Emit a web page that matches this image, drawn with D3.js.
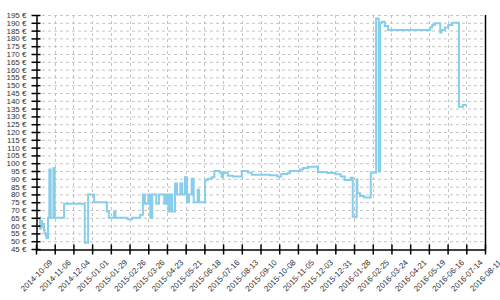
<!DOCTYPE html>
<html><head><meta charset="utf-8">
<script src="https://cdn.jsdelivr.net/npm/d3@7"></script>
<style>
body{margin:0;background:#fff;}
svg{display:block;font-family:"Liberation Sans",Arial,sans-serif;}
</style></head>
<body><svg id="c" width="500" height="300"></svg>
<script>
const dates = ["2014-10-14","2014-10-15","2014-10-16","2014-10-18","2014-10-19","2014-10-21","2014-10-22","2014-10-24","2014-10-25","2014-10-27","2014-10-29","2014-10-31","2014-11-04","2014-11-06","2014-11-20","2014-12-21","2014-12-26","2015-01-04","2015-01-23","2015-01-26","2015-02-03","2015-02-05","2015-02-23","2015-03-02","2015-03-14","2015-03-18","2015-03-21","2015-03-26","2015-03-29","2015-04-01","2015-04-07","2015-04-11","2015-04-19","2015-04-22","2015-04-25","2015-04-28","2015-05-01","2015-05-05","2015-05-08","2015-05-13","2015-05-16","2015-05-20","2015-05-23","2015-05-26","2015-05-30","2015-06-02","2015-06-08","2015-06-10","2015-06-19","2015-06-23","2015-06-29","2015-07-03","2015-07-11","2015-07-14","2015-07-16","2015-07-19","2015-07-23","2015-07-31","2015-08-13","2015-08-22","2015-08-28","2015-09-24","2015-10-05","2015-10-11","2015-10-20","2015-10-24","2015-11-08","2015-11-13","2015-11-20","2015-12-05","2015-12-19","2015-12-31","2016-01-08","2016-01-14","2016-01-23","2016-01-26","2016-02-01","2016-02-02","2016-02-06","2016-02-12","2016-02-22","2016-03-01","2016-03-05","2016-03-07","2016-03-10","2016-03-14","2016-03-19","2016-05-21","2016-05-24","2016-05-28","2016-06-05","2016-06-07","2016-06-12","2016-06-17","2016-06-23","2016-07-03","2016-07-09","2016-07-15"];
const prices = [65,58,63,59,61,57,55,53,52,65,96,65,97,65,74,49,80,75,69,65,69,65,64,65,67,80,74,80,65,80,74,80,74,80,69,80,69,87,80,87,80,91,75,80,90,75,83,75,89,90,91,95,94,91,93.5,94,92,91.4,95,94,92.6,92.2,91.4,93,93.5,95,96,97,97.8,94.4,93.7,92.9,91.4,89.2,90.7,65.7,89.6,80.7,79,78,94,192.8,94.6,190,190.7,188,185.4,187,188.6,189.7,183.8,185.4,187,188.6,190,136.2,137.3,137.3];
const xTicks = ["2014-10-09","2014-11-06","2014-12-04","2015-01-01","2015-01-29","2015-02-26","2015-03-26","2015-04-23","2015-05-21","2015-06-18","2015-07-16","2015-08-13","2015-09-10","2015-10-08","2015-11-05","2015-12-03","2015-12-31","2016-01-28","2016-02-25","2016-03-24","2016-04-21","2016-05-19","2016-06-16","2016-07-14","2016-08-11"];
const yTicks = [45,50,55,60,65,70,75,80,85,90,95,100,105,110,115,120,125,130,135,140,145,150,155,160,165,170,175,180,185,190,195];

const parse = d3.utcParse("%Y-%m-%d");
const svg = d3.select("#c");
const L = 36, R = 485, T = 15, B = 249;
const x = d3.scaleUtc().domain([parse(xTicks[0]), parse(xTicks[xTicks.length-1])]).range([L, R]);
const y = d3.scaleLinear().domain([45, 195]).range([B, T]);

// grid
const g = svg.append("g");
g.selectAll("line.h").data(yTicks.slice(1)).join("line")
  .attr("x1", L).attr("x2", R).attr("y1", d => y(d) + 0.5).attr("y2", d => y(d) + 0.5)
  .attr("stroke", "#c4c4c4").attr("stroke-dasharray", "3,3");
g.selectAll("line.v").data(xTicks.slice(1, -1)).join("line")
  .attr("x1", d => Math.round(x(parse(d))) + 0.5).attr("x2", d => Math.round(x(parse(d))) + 0.5)
  .attr("y1", T).attr("y2", B)
  .attr("stroke", "#c4c4c4").attr("stroke-dasharray", "3,3");

// line
const pts = dates.map((d, i) => [parse(d), prices[i]]);
svg.append("path").datum(pts)
  .attr("fill", "none").attr("stroke", "#87ceeb").attr("stroke-width", 2)
  .attr("d", d3.line().x(d => x(d[0])).y(d => y(d[1])).curve(d3.curveStepAfter));

// y axis
const ya = svg.append("g").attr("transform", `translate(${L + 0.5},0)`)
  .call(d3.axisLeft(y).tickValues(yTicks).tickFormat(d => d + " €").tickSize(5).tickPadding(5).tickSizeOuter(0));
ya.selectAll(".tick line").attr("x1", 4);
// x axis
const xa = svg.append("g").attr("transform", `translate(0,${B + 0.5})`)
  .call(d3.axisBottom(x).tickValues(xTicks.map(parse)).tickFormat(d3.utcFormat("%Y-%m-%d")).tickSize(5).tickSizeOuter(0));
xa.selectAll(".tick line").attr("y1", -5);
xa.selectAll(".tick text").attr("text-anchor", "middle").attr("y", 0).attr("dy", "0.35em")
  .attr("transform", "translate(0,26) rotate(-45)");
[ya, xa].forEach(a => {
  a.select(".domain").attr("stroke", "#000").attr("stroke-width", 1.5);
  a.selectAll(".tick line").attr("stroke", "#000").attr("stroke-width", 1.5);
  a.selectAll(".tick text").attr("fill", "#333").style("font-size", "8px");
});
// right border
svg.append("line").attr("x1", R + 0.5).attr("x2", R + 0.5).attr("y1", T).attr("y2", B)
  .attr("stroke", "#000").attr("stroke-width", 1.5);
</script></body></html>
